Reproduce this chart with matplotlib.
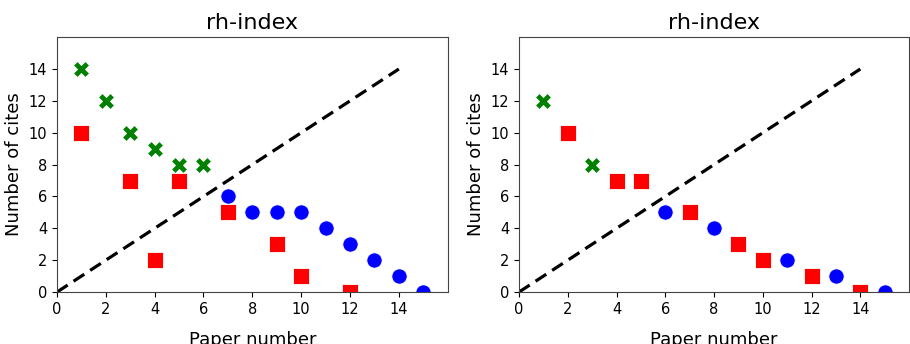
import matplotlib
matplotlib.use("Agg")
import matplotlib.pyplot as plt

# Left panel
left_x_green = [1, 2, 3, 4, 5, 6]
left_y_green = [14, 12, 10, 9, 8, 8]
left_x_red = [1, 3, 4, 5, 7, 9, 10, 12]
left_y_red = [10, 7, 2, 7, 5, 3, 1, 0]
left_x_blue = [7, 8, 9, 10, 11, 12, 13, 14, 15]
left_y_blue = [6, 5, 5, 5, 4, 3, 2, 1, 0]

# Right panel
right_x_green = [1, 3]
right_y_green = [12, 8]
right_x_red = [2, 4, 5, 7, 9, 10, 12, 14]
right_y_red = [10, 7, 7, 5, 3, 2, 1, 0]
right_x_blue = [6, 8, 11, 13, 15]
right_y_blue = [5, 4, 2, 1, 0]

diag = [0, 14]
ticks = [0, 2, 4, 6, 8, 10, 12, 14]
title = "rh-index"

fig = plt.figure(figsize=(9.1, 3.44), dpi=100)
ax1 = fig.add_axes([0.0626, 0.151, 0.4294, 0.741])
ax2 = fig.add_axes([0.5703, 0.151, 0.4287, 0.741])

panels = [
    (ax1, left_x_green, left_y_green, left_x_red, left_y_red, left_x_blue, left_y_blue),
    (ax2, right_x_green, right_y_green, right_x_red, right_y_red, right_x_blue, right_y_blue),
]
for ax, gx, gy, rx, ry, bx, by in panels:
    ax.plot(diag, diag, 'k--', lw=2.3, dashes=(4, 2.2))
    ax.plot(gx, gy, 'X', color='green', ms=11.5, mec='white', mew=0.6, ls='none')
    ax.plot(rx, ry, 's', color='red', ms=11.5, mec='white', mew=0.6, ls='none')
    ax.plot(bx, by, 'o', color='blue', ms=11, mec='white', mew=0.6, ls='none')
    ax.set_xlim(0, 16)
    ax.set_ylim(0, 16)
    ax.set_xticks(ticks)
    ax.set_yticks(ticks)
    ax.tick_params(labelsize=10.5)
    ax.set_title(title, fontsize=16)
    ax.set_xlabel("Paper number", fontsize=13, labelpad=10)
    ax.set_ylabel("Number of cites", fontsize=13)
    for s in ax.spines.values():
        s.set_color('#444444')

fig.savefig("out.png", dpi=100)
